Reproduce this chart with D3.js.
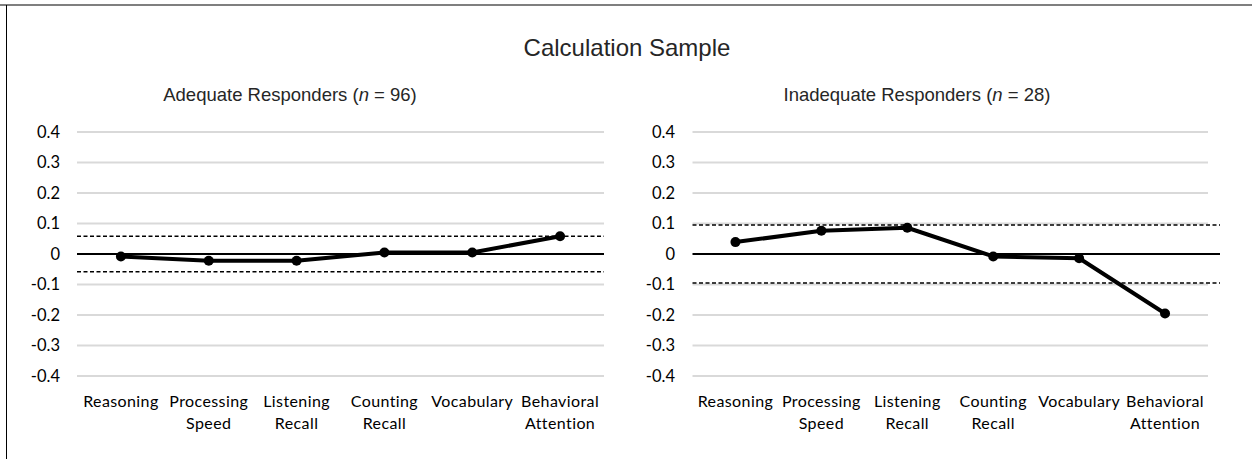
<!DOCTYPE html>
<html><head><meta charset="utf-8">
<script src="https://cdn.jsdelivr.net/npm/d3@7"></script>
<style>body{margin:0;background:#fff;} svg{display:block;}</style>
</head><body><svg id="c" width="1252" height="459"></svg>
<script>
const categories = ["Reasoning","Processing Speed","Listening Recall","Counting Recall","Vocabulary","Behavioral Attention"];
const adequate = [-0.008, -0.022, -0.022, 0.005, 0.005, 0.058];
const inadequate = [0.039, 0.076, 0.086, -0.008, -0.014, -0.195];
const adequateBand = 0.058;
const inadequateBand = 0.095;
const yTicks = [0.4, 0.3, 0.2, 0.1, 0, -0.1, -0.2, -0.3, -0.4];
const yTickLabels = ["0.4","0.3","0.2","0.1","0","-0.1","-0.2","-0.3","-0.4"];
const mainTitle = "Calculation Sample";
const panelTitles = [["Adequate Responders (", "n", " = 96)"], ["Inadequate Responders (", "n", " = 28)"]];

const svg = d3.select("#c");
svg.append("rect").attr("width",1252).attr("height",459).attr("fill","#fff");
// frame
svg.append("line").attr("x1",0).attr("x2",1252).attr("y1",5).attr("y2",5).attr("stroke","#7f7f7f").attr("stroke-width",2);
svg.append("line").attr("x1",6.5).attr("x2",6.5).attr("y1",5).attr("y2",459).attr("stroke","#000").attr("stroke-width",1);

svg.append("text").attr("x",627).attr("y",56).attr("text-anchor","middle")
  .attr("font-family","'Liberation Sans', Arial, sans-serif").attr("font-size",24).attr("fill","#262626").text(mainTitle);

const y = d3.scaleLinear().domain([-0.4,0.4]).range([376,132]);
const panels = [
  {x0:77, x1:604, ext:604, data:adequate, band:adequateBand, title:panelTitles[0], tx:290, lx:60},
  {x0:692.5, x1:1208, ext:1220, data:inadequate, band:inadequateBand, title:panelTitles[1], tx:917, lx:675}
];
panels.forEach(p => {
  const g = svg.append("g");
  const x = d3.scaleBand().domain(categories).range([p.x0,p.x1]);
  const t = g.append("text").attr("x",p.tx).attr("y",101).attr("text-anchor","middle")
    .attr("font-family","'Liberation Sans', Arial, sans-serif").attr("font-size",18.5).attr("fill","#262626");
  t.append("tspan").text(p.title[0]);
  t.append("tspan").attr("font-style","italic").text(p.title[1]);
  t.append("tspan").text(p.title[2]);
  // gridlines
  g.selectAll(".grid").data(yTicks.filter(d=>d!==0)).join("line")
    .attr("x1",p.x0).attr("x2",p.x1).attr("y1",d=>y(d)).attr("y2",d=>y(d))
    .attr("stroke","#d9d9d9").attr("stroke-width",2);
  // y labels
  g.selectAll(".yl").data(yTicks).join("text")
    .attr("x",p.lx).attr("y",d=>y(d)).attr("dy","0.36em").attr("text-anchor","end")
    .attr("font-family","Lato, 'Open Sans', sans-serif").attr("font-size",16.5).attr("fill","#000")
    .text((d,i)=>yTickLabels[i]);
  // zero & band lines
  g.append("line").attr("x1",p.x0).attr("x2",p.ext).attr("y1",y(0)).attr("y2",y(0)).attr("stroke","#000").attr("stroke-width",2);
  [p.band,-p.band].forEach(b=>{
    g.append("line").attr("x1",p.x0).attr("x2",p.ext).attr("y1",y(b)).attr("y2",y(b))
      .attr("stroke","#000").attr("stroke-width",1.5).attr("stroke-dasharray","4,2.5");
  });
  // category labels
  const cl = g.selectAll(".cl").data(categories).join("text")
    .attr("x",d=>x(d)+x.bandwidth()/2).attr("y",407).attr("text-anchor","middle")
    .attr("font-family","Lato, 'Open Sans', sans-serif").attr("font-size",16).attr("letter-spacing",0.4).attr("fill","#000");
  cl.each(function(d){
    const parts = d.split(" ");
    const el = d3.select(this);
    parts.forEach((w,i)=>{
      el.append("tspan").attr("x",x(d)+x.bandwidth()/2).attr("dy",i===0?0:21.5).text(w);
    });
  });
  // data line
  const line = d3.line().x((d,i)=>x(categories[i])+x.bandwidth()/2).y(d=>y(d));
  g.append("path").datum(p.data).attr("d",line).attr("fill","none").attr("stroke","#000").attr("stroke-width",4).attr("stroke-linejoin","round");
  g.selectAll(".pt").data(p.data).join("circle")
    .attr("cx",(d,i)=>x(categories[i])+x.bandwidth()/2).attr("cy",d=>y(d)).attr("r",5).attr("fill","#000");
});
</script></body></html>
